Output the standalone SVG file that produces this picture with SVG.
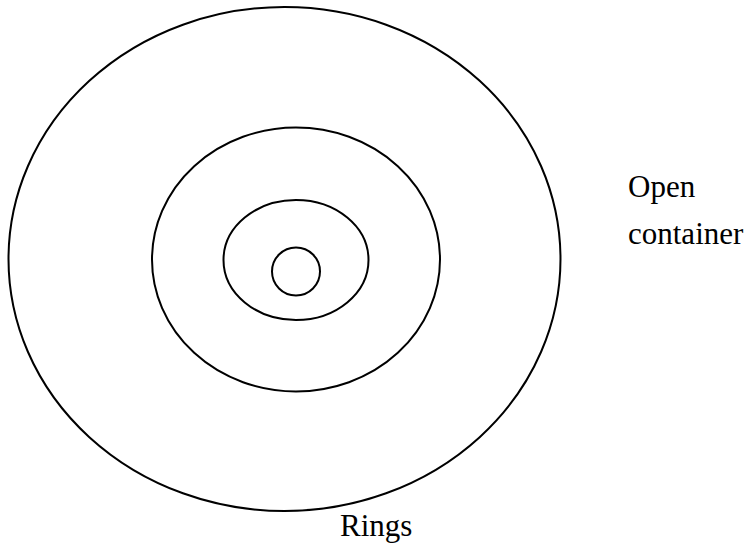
<svg xmlns="http://www.w3.org/2000/svg" width="747" height="543" viewBox="0 0 747 543">
<style>
.ring{fill:none;stroke:#000;stroke-width:2}
.lbl{font-family:"Liberation Serif","Times New Roman",serif;font-size:31px;fill:#000}
</style>
<rect width="747" height="543" fill="#fff"/>
<g id="outer"><ellipse class="ring" cx="284.5" cy="259" rx="276" ry="252"/></g>
<g id="ring2"><ellipse class="ring" cx="296" cy="259.5" rx="144" ry="132"/></g>
<g id="ring3"><ellipse class="ring" cx="296" cy="260" rx="72.5" ry="60"/></g>
<g id="core"><ellipse class="ring" cx="296" cy="271.5" rx="24" ry="24"/></g>
<g id="connectors"></g>
<g id="labels">
<text class="lbl" x="628" y="197">Open</text>
<text class="lbl" x="628" y="244">container</text>
<text class="lbl" x="340" y="536">Rings</text>
</g>
</svg>
